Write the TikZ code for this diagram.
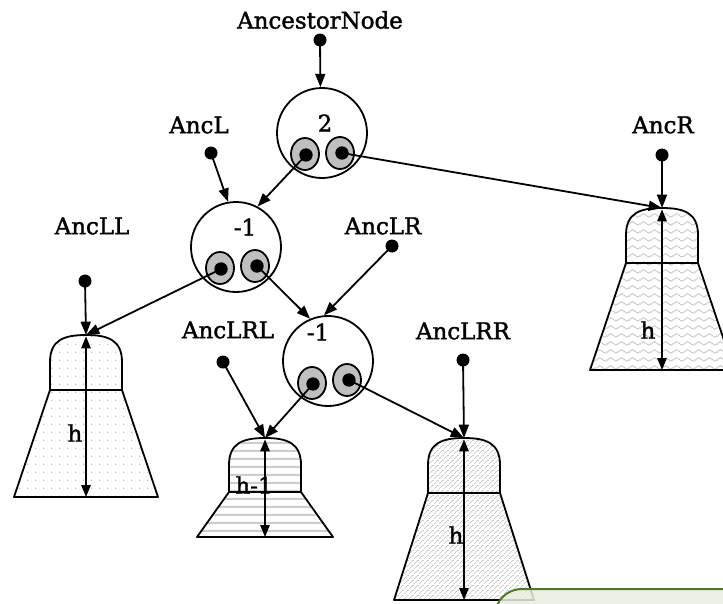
\documentclass[tikz,border=0pt]{standalone}
\usepackage{fontspec}
\setmainfont{DejaVu Serif}
\newfontfamily\lblfont{DejaVu Serif}[FakeBold=1.6]
\usetikzlibrary{arrows.meta,patterns.meta,shapes.geometric}
\tikzdeclarepattern{
  name=pdots, type=colored,
  bottom left={(0pt,0pt)}, top right={(6pt,6pt)}, tile size={(6pt,6pt)},
  code={\tikzset{x=1pt,y=1pt}\fill[black!22] (3,3) circle (0.75);}
}
\tikzdeclarepattern{
  name=phlines, type=colored,
  bottom left={(0pt,0pt)}, top right={(4pt,6pt)}, tile size={(4pt,6pt)},
  code={\tikzset{x=1pt,y=1pt}\fill[black!20] (0,0) rectangle (4,1.8);}
}
\tikzdeclarepattern{
  name=pnelines, type=colored,
  bottom left={(0pt,0pt)}, top right={(4pt,4pt)}, tile size={(4pt,4pt)},
  code={\tikzset{x=1pt,y=1pt}\draw[black!25,line width=0.5pt] (-1,-1) -- (5,5);}
}
\tikzdeclarepattern{
  name=pwaves, type=colored,
  bottom left={(0pt,0pt)}, top right={(8pt,6pt)}, tile size={(8pt,6pt)},
  code={\tikzset{x=1pt,y=1pt}\draw[black!25,line width=0.6pt] (0,3) sin (2,4.5) cos (4,3) sin (6,1.5) cos (8,3);}
}
\tikzset{
  lbl/.style={font=\lblfont\fontsize{17.2}{21}\selectfont, inner sep=0pt},
  avl/.style={circle, draw, line width=1.35pt, minimum size=67.5pt, inner sep=0pt},
  eye/.style={ellipse, draw, line width=1.35pt, fill=black!25, minimum width=21pt, minimum height=24pt, inner sep=0pt},
  pupil/.style={circle, fill=black, minimum size=10pt, inner sep=0pt},
  ptr/.style={circle, fill=black, minimum size=9.75pt, inner sep=0pt},
  arr/.style={-{Triangle[length=10pt,width=7.5pt]}, line width=1.35pt},
  harr/.style={{Triangle[length=9pt,width=7pt]}-{Triangle[length=9pt,width=7pt]}, line width=1.35pt},
  treeline/.style={line width=1.35pt, line join=round},
}
% #1 cx, #2 top, #3 mid, #4 bottom, #5 half bottom width, #6 pattern, #7 name
\newcommand{\subtree}[7]{%
  \path[pattern=#6] (#1-36,#3) -- (#1-36,#2+27) .. controls (#1-36,#2+5) and (#1-22,#2) .. (#1,#2)
     .. controls (#1+22,#2) and (#1+36,#2+5) .. (#1+36,#2+27) -- (#1+36,#3) -- (#1+#5,#4) -- (#1-#5,#4) -- cycle;
  \draw[treeline] (#1-36,#3) -- (#1-36,#2+27) .. controls (#1-36,#2+5) and (#1-22,#2) .. (#1,#2)
     .. controls (#1+22,#2) and (#1+36,#2+5) .. (#1+36,#2+27) -- (#1+36,#3) -- cycle;
  \draw[treeline] (#1-36,#3) -- (#1+36,#3) -- (#1+#5,#4) -- (#1-#5,#4) -- cycle;
  \coordinate (#7top) at (#1,#2);
  \coordinate (#7bot) at (#1,#4);
}
\begin{document}
\begin{tikzpicture}[x=0.75pt,y=-0.75pt]
\useasboundingbox (0,0) rectangle (723,603);

% subtrees
\subtree{662}{208}{263}{370}{72}{pwaves}{tR}
\subtree{86}{335}{390}{497}{72}{pdots}{tLL}
\subtree{265}{438}{492}{537}{68}{phlines}{tLRL}
\subtree{464}{438}{493}{600}{70}{pnelines}{tLRR}

% height arrows
\draw[harr] ([yshift=-1pt]tRtop) -- (tRbot);
\draw[harr] ([yshift=-1pt]tLLtop) -- (tLLbot);
\draw[harr] ([yshift=-1pt]tLRLtop) -- (tLRLbot);
\draw[harr] ([yshift=-1pt]tLRRtop) -- (tLRRbot);
\node[lbl] (hR) at (648,330) {h};
\node[lbl] (hLL) at (75,433) {h};
\node[lbl] (hLRL) at (254,485) {h-1};
\node[lbl] (hLRR) at (456,535) {h};

% AVL nodes
\node[avl] (root) at (322,133) {};
\node[avl] (nL) at (236,247) {};
\node[avl] (nLR) at (328,361) {};
\node[lbl] (bal0) at (325,123) {2};
\node[lbl] (bal1) at (245,227) {-1};
\node[lbl] (bal2) at (318,332) {-1};

\node[eye] (rootEL) at (305,154) {};
\node[eye] (rootER) at (340,153) {};
\node[eye] (nLEL) at (220,268) {};
\node[eye] (nLER) at (255,266) {};
\node[eye] (nLREL) at (312,383) {};
\node[eye] (nLRER) at (347,380) {};
\node[pupil] (rootPL) at (306,155) {};
\node[pupil] (rootPR) at (342,153) {};
\node[pupil] (nLPL) at (221,269) {};
\node[pupil] (nLPR) at (257,266) {};
\node[pupil] (nLRPL) at (313,384) {};
\node[pupil] (nLRPR) at (349,380) {};

% labels and pointer dots
\node[lbl] (lAnc) at (320,20) {AncestorNode};
\node[lbl] (lL) at (199,125) {AncL};
\node[lbl] (lR) at (663,125) {AncR};
\node[lbl] (lLL) at (92,226) {AncLL};
\node[lbl] (lLR) at (383,226) {AncLR};
\node[lbl] (lLRL) at (228,330) {AncLRL};
\node[lbl] (lLRR) at (463,331) {AncLRR};

\node[ptr] (dAnc) at (320,40) {};
\node[ptr] (dL) at (211,153) {};
\node[ptr] (dR) at (662,155) {};
\node[ptr] (dLL) at (85,281) {};
\node[ptr] (dLR) at (392,246) {};
\node[ptr] (dLRL) at (223,362) {};
\node[ptr] (dLRR) at (463,360) {};

% connectors
\draw[arr] (dAnc.center) -- (root.92);
\draw[arr] (dL.center) -- (nL.100);
\draw[arr] (rootPL.center) -- (nL.62);
\draw[arr] (rootPR.center) -- (tRtop);
\draw[arr] (dR.center) -- (tRtop);
\draw[arr] (nLPL.center) -- (tLLtop);
\draw[arr] (dLL.center) -- (tLLtop);
\draw[arr] (nLPR.center) -- (nLR.113);
\draw[arr] (dLR.center) -- (nLR.95);
\draw[arr] (nLRPL.center) -- (tLRLtop);
\draw[arr] (dLRL.center) -- (tLRLtop);
\draw[arr] (nLRPR.center) -- (tLRRtop);
\draw[arr] (dLRR.center) -- (tLRRtop);

% green box at the bottom right
\draw[draw={rgb,255:red,80;green,122;blue,38}, line width=1.5pt,
      fill={rgb,255:red,232;green,240;blue,224}, fill opacity=0.85, rounded corners=20pt]
  (495,589) rectangle (760,640);
\end{tikzpicture}
\end{document}
